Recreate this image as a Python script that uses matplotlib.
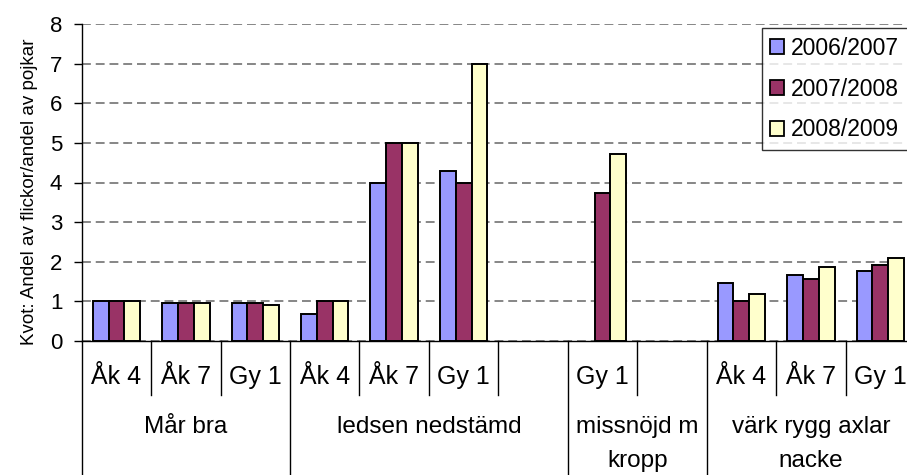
import numpy as np
import matplotlib

matplotlib.use("Agg")
import matplotlib.pyplot as plt
import matplotlib.transforms as mtransforms

plt.rcParams["font.family"] = ["Liberation Sans", "DejaVu Sans"]

# slot labels (bottom level) and group labels (second level)
slot_labels = ["Åk 4", "Åk 7", "Gy 1", "Åk 4", "Åk 7", "Gy 1", "",
               "Gy 1", "", "Åk 4", "Åk 7", "Gy 1"]
groups = ["Mår bra", "ledsen nedstämd", "missnöjd m\nkropp",
          "värk rygg axlar\nnacke"]
group_sizes = [3, 4, 2, 3]

series_names = ["2006/2007", "2007/2008", "2008/2009"]
nan = np.nan
v_2006 = [1.0, 0.96, 0.95, 0.67, 4.0, 4.3, nan, nan, nan, 1.47, 1.66, 1.76]
v_2007 = [1.0, 0.96, 0.95, 1.0, 5.0, 4.0, nan, 3.74, nan, 1.0, 1.57, 1.91]
v_2008 = [1.0, 0.96, 0.91, 1.0, 5.0, 7.0, nan, 4.73, nan, 1.18, 1.86, 2.10]
colors = ["#9999FF", "#993366", "#FFFFCC"]

W, H = 907, 475
fig = plt.figure(figsize=(W / 100, H / 100), dpi=100)
left, right, bottom, top = 81.7, 915, 341, 24
ax = fig.add_axes([left / W, 1 - bottom / H, (right - left) / W, (bottom - top) / H])

x = np.arange(len(slot_labels))
bw = 0.228
for i, (vals, c, name) in enumerate(zip([v_2006, v_2007, v_2008], colors, series_names)):
    ax.bar(x + (i - 1) * bw, vals, width=bw, color=c, edgecolor="black",
           linewidth=1.4, label=name, zorder=3)

ax.set_xlim(-0.5, len(slot_labels) - 0.5)
ax.set_ylim(0, 8)
ax.set_yticks(range(0, 9))
ax.yaxis.grid(True, linestyle=(0, (5.8, 3.2)), color="#666666", linewidth=1.1)
ax.set_axisbelow(True)
for s in ["top", "right"]:
    ax.spines[s].set_visible(False)
ax.spines["left"].set_linewidth(1.0)
ax.spines["bottom"].set_linewidth(1.0)
ax.tick_params(axis="y", direction="out", length=6, width=1.0,
               labelsize=16, pad=8)
ax.set_xticks(x)
ax.set_xticklabels(slot_labels, fontsize=18)
ax.tick_params(axis="x", length=0, pad=26)
for lbl in ax.get_xticklabels():
    lbl.set_va("center")

ax.set_ylabel("Kvot: Andel av flickor/andel av pojkar", fontsize=13.5)
ax.yaxis.set_label_coords(-44 / (right - left), 0.47)

# separators and group labels
trans = mtransforms.blended_transform_factory(ax.transData, ax.transAxes)
px = 1 / (bottom - top)
bounds = np.cumsum([0] + group_sizes) - 0.5
for k in range(len(slot_labels) + 1):
    xb = k - 0.5
    long_line = np.any(np.isclose(bounds, xb))
    y1 = -140 * px if long_line else -54 * px
    ax.plot([xb, xb], [0, y1], color="black", lw=1.0, transform=trans,
            clip_on=False)
start = 0
for g, n in zip(groups, group_sizes):
    xc = start + (n - 1) / 2
    ax.text(xc, -75 * px, g, transform=trans, ha="center", va="top",
            fontsize=17.5, linespacing=1.69)
    start += n

leg = fig.legend(loc="upper left", bbox_to_anchor=(761.7 / W, 1 - 28 / H),
                 fontsize=16.5, frameon=True, fancybox=False, edgecolor="black",
                 handlelength=0.61, handleheight=0.6, handletextpad=0.3,
                 labelspacing=0.78, borderpad=0.38, borderaxespad=0)
leg.get_frame().set_linewidth(1.0)
for h in leg.legend_handles:
    h.set_linewidth(1.3)

fig.savefig("out.png", dpi=100)
